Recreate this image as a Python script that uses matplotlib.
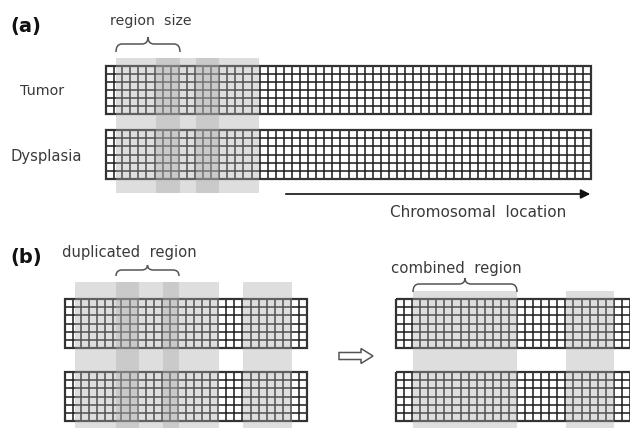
import numpy as np
import matplotlib.pyplot as plt
from matplotlib.path import Path
from matplotlib.patches import PathPatch, FancyArrow, Rectangle

# ---- layout data (pixel units of the 630x428 canvas) ----
# grid bars: (left, top, width, height, ncols, nrows)
bars_a = [(106, 66, 485, 48, 60, 6), (106, 130, 485, 49, 60, 6)]
bars_b_left = [(65, 299, 242, 49, 30, 6), (65, 372, 242, 49, 30, 6)]
bars_b_right = [(396, 299, 242, 49, 30, 6), (396, 372, 242, 49, 30, 6)]

# shaded windows: (x start, x end, y top, y bottom)
windows_a = [(116, 180, 58, 193), (156, 219, 58, 193), (196, 259, 58, 193)]
windows_b_left = [(75, 139, 282, 440), (116, 179, 282, 440), (163, 219, 282, 440),
                  (243, 292, 282, 440)]
windows_b_right = [(413, 517, 291, 440), (566, 614, 291, 440)]

# braces: (x start, x end, tip y, line y, peak y)
braces = [(116, 180, 52, 44, 37), (116, 179, 276, 270, 265), (413, 517, 292, 284, 278)]

labels = [
    ("(a)", 10, 26, 14, "bold"),
    ("(b)", 10, 257, 14, "bold"),
    ("region  size", 110, 21, 10.2, "normal"),
    ("Tumor", 20, 91, 10.3, "normal"),
    ("Dysplasia", 10, 156, 10.6, "normal"),
    ("Chromosomal  location", 390, 212, 11, "normal"),
    ("duplicated  region", 62, 253, 10.6, "normal"),
    ("combined  region", 391, 268, 10.7, "normal"),
]

fig = plt.figure(figsize=(6.3, 4.28), dpi=100)
ax = fig.add_axes([0, 0, 1, 1])
ax.set_xlim(0, 630)
ax.set_ylim(428, 0)
ax.axis("off")


def draw_grid(bar):
    x0, y0, w, h, nc, nr = bar
    xs = x0 + np.arange(nc + 1) * w / nc
    ys = y0 + np.arange(nr + 1) * h / nr
    ax.vlines(xs, y0, y0 + h, color="#1a1a1a", lw=1.1, zorder=2)
    ax.hlines(ys, x0, x0 + w, color="#1a1a1a", lw=1.1, zorder=2)
    ax.add_patch(Rectangle((x0, y0), w, h, fill=False, ec="#333333", lw=1.6, zorder=2))


def draw_window(win):
    xa, xb, yt, yb = win
    ax.add_patch(Rectangle((xa, yt), xb - xa, yb - yt, fc="#aaaaaa", ec="none",
                           alpha=0.38, zorder=3))


def draw_brace(br):
    xa, xb, ytip, yline, ypeak = br
    xm = (xa + xb) / 2
    r = 6
    verts = [(xa, ytip), (xa, yline), (xa + r, yline),
             (xm - r, yline), (xm, yline), (xm, ypeak),
             (xm, yline), (xm + r, yline),
             (xb - r, yline), (xb, yline), (xb, ytip)]
    codes = [Path.MOVETO, Path.CURVE3, Path.CURVE3,
             Path.LINETO, Path.CURVE3, Path.CURVE3,
             Path.CURVE3, Path.CURVE3,
             Path.LINETO, Path.CURVE3, Path.CURVE3]
    ax.add_patch(PathPatch(Path(verts, codes), fill=False, ec="#555555", lw=1.1, zorder=4))


for bar in bars_a + bars_b_left + bars_b_right:
    draw_grid(bar)
for win in windows_a + windows_b_left + windows_b_right:
    draw_window(win)
for br in braces:
    draw_brace(br)

# chromosomal location arrow
ax.annotate("", xy=(593, 194), xytext=(283, 194),
            arrowprops=dict(arrowstyle="-|>", color="#111111", lw=1.2,
                            mutation_scale=14))

# hollow arrow between (b) panels
ax.add_patch(FancyArrow(339, 356, 22, 0, width=7, head_width=15, head_length=12,
                        length_includes_head=False, fc="white", ec="#555555",
                        lw=1.1, zorder=4))

for txt, x, y, fs, fw in labels:
    ax.text(x, y, txt, fontsize=fs, fontweight=fw,
            color="#3a3a3a" if fw == "normal" else "#111111",
            ha="left", va="center", family="DejaVu Sans")

fig.savefig("out.png", dpi=100)
